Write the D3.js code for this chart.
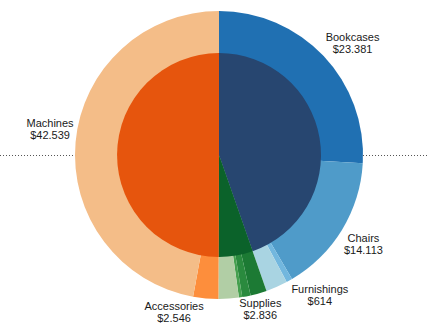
<!DOCTYPE html>
<html><head><meta charset="utf-8">
<script src="https://cdn.jsdelivr.net/npm/d3@7"></script>
<style>
body{margin:0;background:#fff}
svg{display:block}
text{font-family:"Liberation Sans",Arial,sans-serif;font-size:11px;fill:#1a1a1a}
</style>
</head><body>
<svg id="c" width="429" height="334"></svg>
<script>
// ---- data ----
const categories = ["Furniture", "Office Supplies", "Technology"];
const subCategories = ["Bookcases", "Chairs", "Furnishings", "Tables", "Supplies", "Paper", "Accessories", "Machines"];
const subValues = [23381, 14113, 614, 2200, 2836, 2050, 2546, 42539];
const subParent = [0, 0, 0, 0, 1, 1, 2, 2];
const labelled = [true, true, true, false, true, false, true, true];
const suppliesParts = [1650, 850, 336];

// ---- styles ----
const categoryColors = ["#274670", "#0b622a", "#e6550d"];
const subColors = ["#2070b2", "#4f9bc9", "#72b7de", "#a9d4e2", "#1c7a34", "#b1cea5", "#fd8e3c", "#f4bd88"];
const suppliesColors = ["#1c7a34", "#2a8a3e", "#45a04f"];

const W = 429, H = 334, cx = 219, cy = 155, R = 144, r = 102;
const fmt = v => "$" + d3.format(",")(v).replace(/,/g, ".");

const svg = d3.select("#c");
svg.append("line").attr("x1", 0).attr("x2", W).attr("y1", cy + 0.5).attr("y2", cy + 0.5)
  .attr("stroke", "#555").attr("stroke-dasharray", "1,2");

const g = svg.append("g").attr("transform", `translate(${cx},${cy})`);

const subData = subCategories.map((name, i) => ({name, value: subValues[i], parent: subParent[i], color: subColors[i], label: labelled[i]}));
const pie = d3.pie().sort(null).value(d => d.value);
const outerArcs = pie(subData);
const outerArc = d3.arc().innerRadius(0).outerRadius(R);

outerArcs.forEach(a => {
  if (a.data.name === "Supplies") {
    const parts = d3.pie().sort(null).startAngle(a.startAngle).endAngle(a.endAngle)(suppliesParts);
    parts.forEach((s, j) => g.append("path").attr("d", outerArc(s)).attr("fill", suppliesColors[j]));
  } else {
    g.append("path").attr("d", outerArc(a)).attr("fill", a.data.color);
  }
});

const catValues = categories.map((c, i) => d3.sum(subValues.filter((v, j) => subParent[j] === i)));
const innerArcs = d3.pie().sort(null)(catValues);
const innerArc = d3.arc().innerRadius(0).outerRadius(r);
innerArcs.forEach((a, i) => g.append("path").attr("d", innerArc(a)).attr("fill", categoryColors[i]));

// ---- labels ----
const gapUp = 0, gapDown = 4, lh = 12;
const boxes = [];
outerArcs.filter(a => a.data.label).forEach(a => {
  const mid = (a.startAngle + a.endAngle) / 2;
  const s = Math.sin(mid), c = Math.cos(mid);
  const ex = R * s, ey = -R * c;
  const t = g.append("text").attr("text-anchor", "middle");
  const l1 = t.append("tspan").attr("x", 0).text(a.data.name);
  const l2 = t.append("tspan").attr("x", 0).attr("dy", lh).text(fmt(a.data.value));
  const w = Math.max(l1.node().getComputedTextLength(), l2.node().getComputedTextLength());
  const bh = 8 + lh + 3;
  let left = Math.abs(s) < 0.05 ? ex - w / 2 : (s > 0 ? ex + 2 : ex - 2 - w);
  let top = c > 0 ? ey - gapUp - bh : ey + gapDown;
  const box = {t, w, bh, left, top};
  boxes.forEach(b => {
    const ox = Math.min(box.left + w, b.left + b.w) - Math.max(box.left, b.left);
    const oy = Math.min(box.top + bh, b.top + b.bh) - Math.max(box.top, b.top);
    if (ox > 0 && oy > 0) {
      if (box.left + w / 2 < b.left + b.w / 2) box.left -= ox + 10; else box.left += ox + 10;
    }
  });
  boxes.push(box);
});
boxes.forEach(b => {
  b.t.attr("transform", `translate(${b.left + b.w / 2},${b.top + 8})`);
});
</script>
</body></html>
